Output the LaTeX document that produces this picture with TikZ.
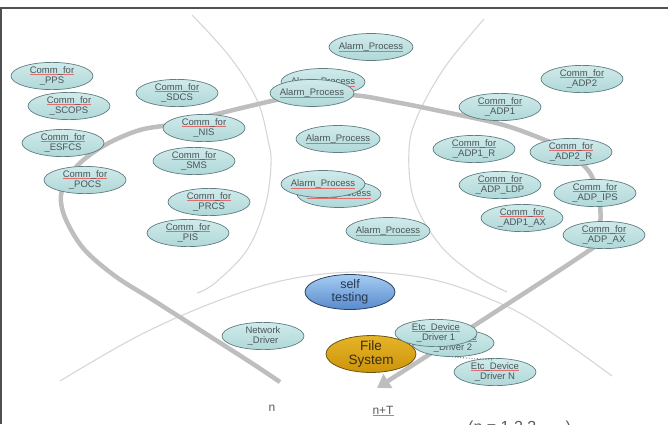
\documentclass[tikz,border=0pt]{standalone}
\usepackage{fontspec}
\setmainfont{Liberation Sans}
\usetikzlibrary{arrows.meta,shapes.geometric}
\definecolor{tealfill}{RGB}{176,216,216}
\definecolor{tealtop}{RGB}{208,234,234}
\definecolor{tealdraw}{RGB}{95,125,130}
\definecolor{txtc}{RGB}{75,85,90}
\definecolor{thinc}{RGB}{214,214,214}
\definecolor{thickc}{RGB}{190,190,190}
\definecolor{framec}{RGB}{80,80,80}
\definecolor{labc}{RGB}{90,90,90}
\definecolor{ulc}{RGB}{225,110,110}
\newsavebox\ulbox
\newcommand\redul[1]{\sbox\ulbox{#1}\rlap{\color{ulc}\rule[-1.7pt]{\wd\ulbox}{0.6pt}}\usebox\ulbox}
\begin{document}
\begin{tikzpicture}[x=1pt,y=-1pt,
  bub/.style={ellipse,draw=tealdraw,line width=0.7pt,top color=tealtop,bottom color=tealfill,
    inner sep=0pt,align=center,text=txtc,font=\fontsize{9.5}{10.5}\selectfont,
    minimum width=82pt,minimum height=27pt},
  alarm/.style={bub,inner xsep=-7pt,minimum width=84pt},
  selfbub/.style={ellipse,draw={rgb,255:red,45;green,65;blue,95},line width=0.8pt,
    top color={rgb,255:red,165;green,205;blue,242},bottom color={rgb,255:red,88;green,138;blue,205},
    inner sep=0pt,align=center,text={rgb,255:red,40;green,55;blue,80},
    font=\fontsize{12.5}{13}\selectfont,minimum width=90pt,minimum height=35pt},
  filebub/.style={ellipse,draw={rgb,255:red,110;green,85;blue,20},line width=0.8pt,
    top color={rgb,255:red,230;green,180;blue,40},bottom color={rgb,255:red,204;green,148;blue,10},
    inner sep=0pt,align=center,text={rgb,255:red,60;green,45;blue,10},
    font=\fontsize{13.5}{13.5}\selectfont,minimum width=90pt,minimum height=35pt},
  thinline/.style={thinc,line width=1.1pt},
  loopline/.style={thickc,line width=4.5pt,-{Triangle[length=13pt,width=16pt]}},
  lab/.style={text=labc,font=\fontsize{12}{12}\selectfont,inner sep=0pt}]
\useasboundingbox (0,0) rectangle (671,424);
% frame
\draw[framec,line width=2pt] (0,8) -- (668,8);
\draw[framec,line width=2pt] (1,8) -- (1,424);
% thin boundary curves
\draw[thinline] plot[smooth,tension=0.6] coordinates {(192,15) (230,57) (257,100) (268,140) (271,165) (265,207) (247,250) (215,283) (197,293)};
\draw[thinline] plot[smooth,tension=0.6] coordinates {(484,19) (445,67) (418,115) (409,150) (414,200) (440,245) (475,275) (507,292)};
\draw[thinline] plot[smooth,tension=0.6] coordinates {(60,381) (140,335) (220,300) (290,279) (360,272) (430,279) (490,299) (540,325) (612,376)};
% thick loop
\coordinate (loopS) at (280,382);
\coordinate (loopE) at (377,388);
\draw[loopline] plot[smooth,tension=0.55] coordinates {(loopS) (250,362) (200,330) (153,300) (115,276) (83,248) (64,215) (62,190) (78,165) (105,145) (140,130) (180,123) (250,106) (290,98) (350,95) (395,102) (440,111) (500,124) (540,138) (565,150) (590,173) (600,205) (597,240) (575,260) (loopE)};
% left group
\node[bub] (pps) at (52,76) {\redul{Comm\_for}\\\_PPS};
\node[bub] (scops) at (69,106) {\redul{Comm\_for}\\\_SCOPS};
\node[bub] (esfcs) at (63,143) {\redul{Comm\_for}\\\_ESFCS};
\node[bub] (pocs) at (85,180) {\redul{Comm\_for}\\\_POCS};
\node[bub] (sdcs) at (177,93) {\redul{Comm\_for}\\\_SDCS};
\node[bub] (nis) at (204,128) {\redul{Comm\_for}\\\_NIS};
\node[bub] (sms) at (194,161) {\redul{Comm\_for}\\\_SMS};
\node[bub] (prcs) at (209,202) {\redul{Comm\_for}\\\_PRCS};
\node[bub] (pis) at (188,233) {\redul{Comm\_for}\\\_PIS};
% alarm group
\node[alarm] (al1) at (371,47) {\redul{Alarm\_Process}};
\node[alarm] (al2b) at (323,82) {\redul{Alarm\_Process}};
\node[alarm] (al2) at (312,93) {\redul{Alarm\_Process}};
\node[alarm] (al3) at (338,139) {\redul{Alarm\_Process}};
\node[alarm] (al4b) at (339,194) {\redul{Alarm\_Process}};
\node[alarm] (al4) at (323,184) {\redul{Alarm\_Process}};
\node[alarm] (al5) at (388,231) {\redul{Alarm\_Process}};
% right group
\node[bub] (adp2) at (582,79) {\redul{Comm\_for}\\\_ADP2};
\node[bub] (adp1) at (500,107) {\redul{Comm\_for}\\\_ADP1};
\node[bub] (adp1r) at (474,149) {\redul{Comm\_for}\\\_ADP1\_R};
\node[bub] (adp2r) at (571,152) {\redul{Comm\_for}\\\_ADP2\_R};
\node[bub] (ldp) at (500,185) {\redul{Comm\_for}\\\_ADP\_LDP};
\node[bub] (ips) at (595,193) {\redul{Comm\_for}\\\_ADP\_IPS};
\node[bub] (adp1ax) at (522,218) {\redul{Comm\_for}\\\_ADP1\_AX};
\node[bub] (adpax) at (604,235) {\redul{Comm\_for}\\\_ADP\_AX};
% bottom group
\node[selfbub] (self) at (350,292) {self\\testing};
\node[bub] (net) at (263,336) {Network\\\_Driver};
\node[filebub] (fs) at (371,354) {File\\System};
\node[bub] (drv2) at (453,343) {\redul{Etc\_Device}\\\_Driver 2};
\node[bub] (drv1) at (436,333) {\redul{Etc\_Device}\\\_Driver 1};
\node[bub] (drvn) at (495,372) {\redul{Etc\_Device}\\\_Driver N};
\coordinate (dotA) at (452,357);
\coordinate (dotB) at (493,360);
\draw[labc,line width=0.8pt,dotted] (dotA) -- (dotB);
% labels
\node[lab] (nlab) at (272,408) {n};
\node[lab] (ntlab) at (383,411) {\redul{n+T}};
\node[lab,font=\fontsize{16}{16}\selectfont,anchor=base west] (rng) at (468,432) {(n = 1,2,3, \dots\ )};
\end{tikzpicture}
\end{document}
